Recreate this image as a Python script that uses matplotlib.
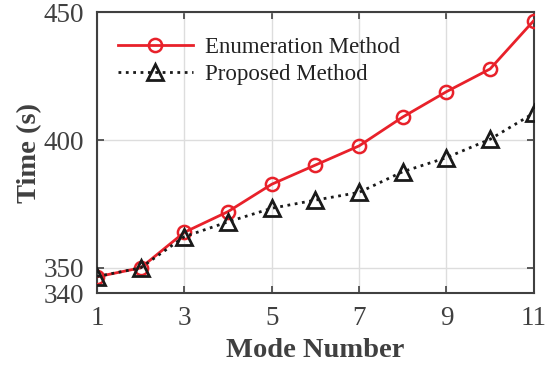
import matplotlib
matplotlib.use("Agg")
import matplotlib.pyplot as plt

modes = [1, 2, 3, 4, 5, 6, 7, 8, 9, 10, 11]
enum_time = [346.5, 350.0, 363.9, 372.0, 382.7, 390.2, 397.7, 409.0, 418.9, 427.8, 446.7]
prop_time = [346.6, 350.0, 362.2, 368.0, 373.3, 376.5, 379.5, 387.6, 393.1, 400.3, 410.5]
xticks = [1, 3, 5, 7, 9, 11]
yticks = [340, 350, 400, 450]

plt.rcParams['font.family'] = ['Liberation Serif', 'DejaVu Serif']
grey = '#404040'

fig = plt.figure(figsize=(5.48, 3.7), dpi=100)
ax = fig.add_axes([0.177, 0.207, 0.797, 0.76])

ax.plot(modes, enum_time, '-o', color='#e8212a', lw=2, ms=9.5, mfc='none',
        mew=1.8, label='Enumeration Method', zorder=3)
ax.plot(modes, prop_time, ':^', color='#1a1a1a', lw=2, ms=11, mfc='none',
        mew=2, label='Proposed Method', zorder=4)

ax.set_xlim(1, 11)
ax.set_ylim(340, 450)
ax.set_xticks(xticks)
ax.set_yticks(yticks)
ax.grid(True, color='#dddddd', lw=1)
ax.set_axisbelow(True)
ax.tick_params(direction='in', top=True, right=True, labelsize=19.5,
               colors=grey, length=5, width=1.2, pad=9)
for s in ax.spines.values():
    s.set_color(grey)
    s.set_linewidth(1.5)

ax.set_xlabel('Mode Number', fontsize=20.5, fontweight='bold', color=grey, labelpad=5)
ax.set_ylabel('Time (s)', fontsize=20.5, fontweight='bold', color=grey, labelpad=1)

leg = ax.legend(loc='upper left', frameon=False, fontsize=16.5, handlelength=3.3,
                bbox_to_anchor=(0.0, 0.985), handletextpad=0.5, labelspacing=0.25)
for t in leg.get_texts():
    t.set_color('#222222')

fig.savefig('out.png', dpi=100)
